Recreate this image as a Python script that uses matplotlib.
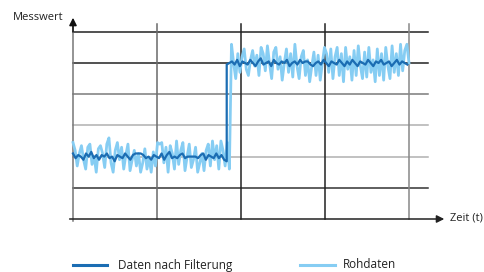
import numpy as np
import matplotlib
matplotlib.use("Agg")
import matplotlib.pyplot as plt
from matplotlib.lines import Line2D

raw_low = [2.45, 2.2, 1.7, 2.1, 2.35, 1.9, 1.6, 2.3, 2.4, 1.75,
           2.0, 1.5, 2.25, 2.35, 2.1, 1.65, 2.4, 2.6, 1.8, 1.5,
           2.2, 2.45, 1.9, 2.3, 1.6, 2.05, 2.4, 1.55, 1.9, 2.2,
           1.7, 2.1, 1.5, 1.8, 2.25, 1.6, 1.95, 1.5, 2.15, 1.7,
           2.45, 2.4, 2.45, 1.8, 2.3, 1.5, 2.35, 2.1, 1.6, 2.5,
           1.75, 2.2, 2.45, 1.55, 2.0, 2.4, 1.65, 1.9, 2.3, 1.5,
           1.8, 2.1, 1.55, 2.2, 2.4, 1.7, 2.5, 1.9, 2.35, 1.6,
           2.5, 2.2, 1.7, 2.45, 1.6]
raw_high = [5.6, 5.0, 4.5, 5.3, 4.7, 5.2, 5.45, 4.8, 4.6, 5.1,
            5.4, 4.9, 5.25, 4.6, 5.5, 5.3, 4.75, 5.55, 5.0, 4.5,
            5.35, 5.5, 4.8, 5.2, 4.45, 5.0, 5.45, 4.7, 5.3, 4.55,
            5.6, 4.9, 4.5, 5.2, 5.4, 4.6, 5.1, 4.4, 4.9, 5.35,
            4.6, 5.25, 4.45, 5.0, 5.5, 5.3, 4.7, 5.45, 4.5, 5.2,
            5.5, 4.6, 5.3, 4.4, 5.5, 4.8, 5.2, 4.45, 5.4, 4.6,
            5.55, 4.9, 4.5, 5.35, 4.55, 5.5, 4.7, 5.1, 4.4, 5.45,
            4.6, 5.3, 4.45, 5.5, 4.9, 4.5, 5.55, 4.7, 5.3, 4.6,
            5.6, 4.75, 5.4, 5.6, 5.0]

# filtered signal
filt_low = [2.1, 1.95, 2.05, 2.0, 1.9, 2.1, 2.0, 2.15, 1.95, 2.05,
            1.9, 2.05, 2.0, 2.1, 1.95, 2.0, 1.85, 2.05, 2.0, 1.95,
            2.1, 2.0, 1.9, 2.05, 2.1, 2.1, 2.1, 2.05, 1.95, 2.0,
            1.9, 2.05, 2.0, 1.95, 2.1, 1.9, 2.05, 2.15, 1.95, 2.0,
            1.95, 2.05, 2.1, 1.95, 2.0, 2.0, 2.0, 2.0, 1.95, 2.05,
            2.1, 1.9, 2.05, 2.0, 1.95, 2.1, 1.95, 2.05, 1.9, 1.85]
filt_high = [4.95, 5.0, 5.05, 4.95, 5.1, 4.9, 5.05, 5.0, 4.95, 5.1,
             5.0, 4.9, 5.05, 5.15, 4.95, 5.0, 5.05, 4.9, 5.1, 5.0,
             4.95, 5.05, 5.0, 5.1, 4.9, 5.0, 5.05, 4.95, 5.1, 5.0,
             5.05, 5.05, 4.95, 4.9, 5.0, 5.05, 4.95, 5.1, 5.0, 4.9,
             5.05, 5.0, 4.95, 5.1, 5.0, 4.9, 5.05, 4.95, 5.1, 5.0,
             4.9, 5.05, 5.0, 4.95, 5.1, 5.0, 4.9, 5.05, 5.0, 5.1,
             4.95, 5.0, 5.05, 4.9, 5.0, 5.1, 4.95, 5.05, 5.0, 4.95]

t_end = 4.0
t_step_filt = 1.83

raw = raw_low + raw_high
t_raw = np.linspace(0, t_end, len(raw))
t_filt = np.concatenate([np.linspace(0, t_step_filt, len(filt_low)),
                         np.linspace(t_step_filt, 3.98, len(filt_high))])
filt = filt_low + filt_high

c_filt = "#1b6db3"
c_raw = "#86cdf3"

W, H = 485, 272
fig = plt.figure(figsize=(W / 100, H / 100), dpi=100)
plt.rcParams['font.family'] = ['Open Sans', 'DejaVu Sans']

# axes box in pixels: x 73..428, y 24..219
x0, x1, y0, y1 = 73, 428, 24, 219
ax = fig.add_axes([x0 / W, 1 - y1 / H, (x1 - x0) / W, (y1 - y0) / H])
ax.set_xlim(0, (x1 - x0) / 84)
ax.set_ylim(0, (y1 - y0) / 31.2)
ax.axis("off")

# grid lines, mixed dark and grey like the original
hcols = {1: "#333333", 2: "#b0b0b0", 3: "#b0b0b0", 4: "#7a7a7a", 5: "#222222", 6: "#222222"}
for yv, col in hcols.items():
    ax.plot([0, ax.get_xlim()[1]], [yv, yv], color=col, lw=1.1, clip_on=False, zorder=1)
vcols = {1: "#6a6a6a", 2: "#222222", 3: "#222222", 4: "#888888"}
for xv, col in vcols.items():
    ax.plot([xv, xv], [0, ax.get_ylim()[1]], color=col, lw=1.1, clip_on=False, zorder=1)

ax.plot(t_raw, raw, color=c_raw, lw=2.0, zorder=2, clip_on=False)
ax.plot(t_filt, filt, color=c_filt, lw=1.6, zorder=3, clip_on=False)

# axes with arrows
ax.plot([0, 0], [-0.07, 6.2], color="#777777", lw=1.1, clip_on=False, zorder=1)
ax.annotate("", xy=(0, 6.45), xytext=(0, 6.0),
            arrowprops=dict(arrowstyle="-|>", color="#111111", lw=1.1,
                            mutation_scale=11, shrinkA=0, shrinkB=0),
            annotation_clip=False)
ax.annotate("", xy=(4.42, 0), xytext=(-0.04, 0),
            arrowprops=dict(arrowstyle="-|>", color="#222222", lw=1.1,
                            mutation_scale=11, shrinkA=0, shrinkB=0),
            annotation_clip=False)

fig.text(64 / W, 1 - 18 / H, "Messwert", ha="right", va="center", fontsize=8, color="#222222")
fig.text(450 / W, 1 - 218 / H, "Zeit (t)", ha="left", va="center", fontsize=8, color="#222222")

# legend
ly = 1 - 265 / H
fig.add_artist(Line2D([73 / W, 107 / W], [ly, ly], color=c_filt, lw=2.2))
fig.text(118 / W, ly, "Daten nach Filterung", ha="left", va="center", fontsize=8.5, color="#222222")
fig.add_artist(Line2D([300 / W, 335 / W], [ly, ly], color=c_raw, lw=2.2))
fig.text(343 / W, ly, "Rohdaten", ha="left", va="center", fontsize=8.5, color="#222222")

fig.savefig("out.png", dpi=100)
